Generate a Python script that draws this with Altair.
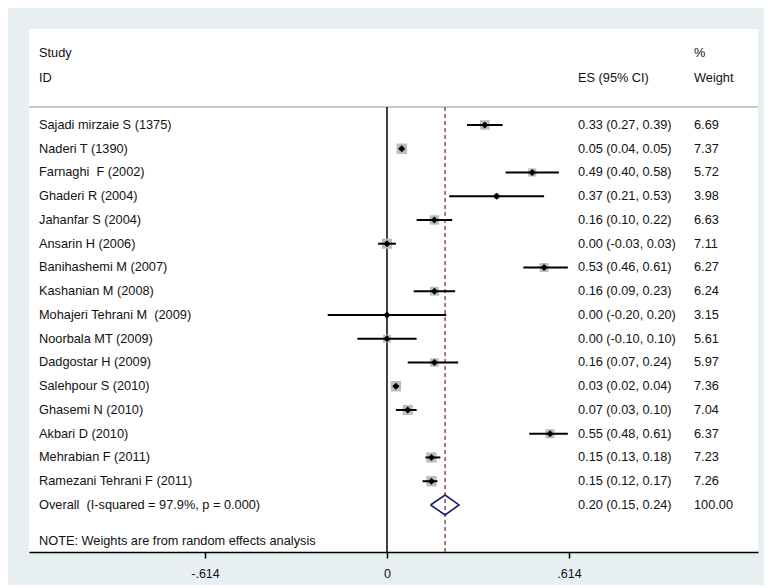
import altair as alt
import pandas as pd

studies = [
    "Sajadi mirzaie S (1375)", "Naderi T (1390)", "Farnaghi  F (2002)", "Ghaderi R (2004)",
    "Jahanfar S (2004)", "Ansarin H (2006)", "Banihashemi M (2007)", "Kashanian M (2008)",
    "Mohajeri Tehrani M  (2009)", "Noorbala MT (2009)", "Dadgostar H (2009)", "Salehpour S (2010)",
    "Ghasemi N (2010)", "Akbari D (2010)", "Mehrabian F (2011)", "Ramezani Tehrani F (2011)",
]
es = [0.33, 0.05, 0.49, 0.37, 0.16, 0.00, 0.53, 0.16, 0.00, 0.00, 0.16, 0.03, 0.07, 0.55, 0.15, 0.15]
lo = [0.27, 0.04, 0.40, 0.21, 0.10, -0.03, 0.46, 0.09, -0.20, -0.10, 0.07, 0.02, 0.03, 0.48, 0.13, 0.12]
hi = [0.39, 0.05, 0.58, 0.53, 0.22, 0.03, 0.61, 0.23, 0.20, 0.10, 0.24, 0.04, 0.10, 0.61, 0.18, 0.17]
weights = [6.69, 7.37, 5.72, 3.98, 6.63, 7.11, 6.27, 6.24, 3.15, 5.61, 5.97, 7.36, 7.04, 6.37, 7.23, 7.26]

overall_label = "Overall\u00a0 (I-squared = 97.9%, p = 0.000)"
overall_es, overall_lo, overall_hi = 0.196, 0.147, 0.243
overall_text = "0.20 (0.15, 0.24)"
overall_weight = "100.00"
note = "NOTE: Weights are from random effects analysis"
ticks = [-0.614, 0, 0.614]

W, H = 729, 523
XDOM = [-1.2078, 1.2517]
YDOM = [-4.04, 17.98]
HEAD_Y = -0.76
FONT = "Liberation Sans"
FS = 12.75

rows = list(range(len(studies)))
df = pd.DataFrame({
    "study": [s.replace("  ", "\u00a0 ") for s in studies],
    "es": es, "lo": lo, "hi": hi, "w": weights, "row": rows,
    "estext": [f"{e:.2f} ({l:.2f}, {h:.2f})" for e, l, h in zip(es, lo, hi)],
    "wtext": [f"{w:.2f}" for w in weights],
})

xs = alt.Scale(domain=XDOM, nice=False, zero=False)
ys = alt.Scale(domain=YDOM, reverse=True, nice=False, zero=False)

X = lambda f: alt.X(f, type="quantitative", scale=xs,
                    axis=alt.Axis(values=ticks, title=None, grid=False,
                                  labelExpr="datum.value == 0 ? '0' : (datum.value < 0 ? '-.614' : '.614')",
                                  domainColor="black", domainWidth=1.5, tickColor="black",
                                  tickWidth=1.5, tickSize=6, labelFont=FONT, labelFontSize=12.5,
                                  labelColor="#111", labelPadding=9))
Y = lambda f: alt.Y(f, type="quantitative", scale=ys, axis=None)

base = alt.Chart(df)

boxes = base.mark_square(color="#bcbcbc", opacity=1).encode(
    x=X("es"), y=Y("row"),
    size=alt.Size("w:Q", scale=alt.Scale(type="pow", exponent=2, domain=[0, 7.37], range=[0, 110]), legend=None),
)
ci = base.mark_rule(color="black", strokeWidth=2).encode(x=X("lo"), x2="hi", y=Y("row"))
pts = base.mark_point(shape="diamond", filled=True, color="black", size=48, opacity=1).encode(x=X("es"), y=Y("row"))

txt_study = base.mark_text(align="left", baseline="middle", font=FONT, fontSize=FS, color="#111").encode(
    x=alt.value(10), y=Y("row"), text="study")
txt_es = base.mark_text(align="left", baseline="middle", font=FONT, fontSize=FS, color="#111").encode(
    x=alt.value(549), y=Y("row"), text="estext")
txt_w = base.mark_text(align="left", baseline="middle", font=FONT, fontSize=FS, color="#111").encode(
    x=alt.value(665), y=Y("row"), text="wtext")

extra = pd.DataFrame({
    "text": ["Study", "ID", "ES (95% CI)", "%", "Weight", overall_label, overall_text, overall_weight, note],
    "px": [10, 10, 549, 665, 665, 10, 549, 665, 10],
    "row": [-3.03, -1.98, -1.98, -3.03, -1.98, 16, 16, 16, 17.5],
})
txt_extra = alt.Chart(extra).mark_text(align="left", baseline="middle", font=FONT, fontSize=FS, color="#111").encode(
    x=alt.X("px:Q", scale=None), y=Y("row"), text="text")

head_line = alt.Chart(pd.DataFrame({"y": [HEAD_Y]})).mark_rule(color="#c8c8c8", strokeWidth=2).encode(
    y=Y("y"), x=alt.value(0), x2=alt.value(W))

vlines = pd.DataFrame({"x": [0.0], "y1": [HEAD_Y], "y2": [YDOM[1]]})
zero_line = alt.Chart(vlines).mark_rule(color="black", strokeWidth=1.5).encode(
    x=X("x"), y=Y("y1"), y2="y2")
dash_line = alt.Chart(pd.DataFrame({"x": [overall_es], "y1": [HEAD_Y], "y2": [YDOM[1]]})).mark_rule(
    color="#8e4f5a", strokeWidth=1.5, strokeDash=[4, 3]).encode(x=X("x"), y=Y("y1"), y2="y2")

hh = 0.42
diamond = pd.DataFrame({
    "x": [overall_lo, overall_es, overall_hi, overall_es, overall_lo],
    "y": [16, 16 - hh, 16, 16 + hh, 16],
    "o": [0, 1, 2, 3, 4],
})
dia = alt.Chart(diamond).mark_line(color="#1c1c6b", strokeWidth=1.6).encode(
    x=X("x"), y=Y("y"), order="o:Q")

chart = alt.layer(head_line, zero_line, dash_line, boxes, ci, pts, dia,
                  txt_study, txt_es, txt_w, txt_extra).properties(
    width=W, height=H, background="#e8eff2",
    padding={"left": 20, "top": 21, "right": 5, "bottom": 5},
).configure_view(fill="white", strokeWidth=0)

chart.save("out.html", embed_options={"renderer": "svg", "actions": False})
